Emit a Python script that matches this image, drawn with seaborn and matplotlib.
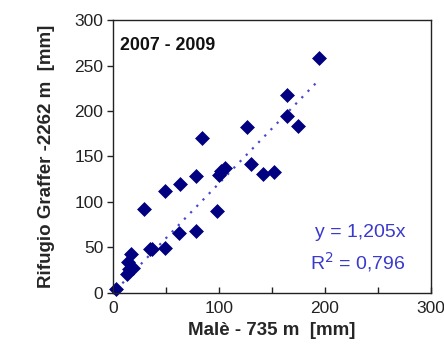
import numpy as np
import pandas as pd
import matplotlib
matplotlib.use("Agg")
import matplotlib.pyplot as plt
import seaborn as sns

# Malè (x) vs Rifugio Graffer (y), monthly precipitation [mm]
male_mm = [3, 13.5, 15.5, 19, 14, 17, 35, 36.5, 49, 29, 49, 63, 62, 78,
           78, 84, 98, 100, 101.5, 106, 126, 130, 141.5, 152, 164, 164,
           174.5, 194]
graffer_mm = [4, 21, 26, 27, 34, 43, 48, 48, 49, 92, 112, 120, 66, 68,
              129, 170, 90, 130, 134, 137, 182, 142, 131, 133, 218, 195,
              183, 258]
slope = 1.205
period_label = "2007 - 2009"
eq_label = "y = 1,205x"
r2_label = "R$^2$ = 0,796"

df = pd.DataFrame({"male": male_mm, "graffer": graffer_mm})

sns.set_style("white")
plt.rcParams["font.family"] = ["Liberation Sans", "DejaVu Sans"]

fig = plt.figure(figsize=(4.44, 3.56), dpi=100)
ax = fig.add_axes([0.2545, 0.177, 0.7162, 0.7668])

# trendline through origin over the data range
xs = np.array([min(male_mm), max(male_mm)])
ax.plot(xs, slope * xs, linestyle=(0, (1, 3)), color="#4848cc", lw=1.6, zorder=1)

sns.scatterplot(data=df, x="male", y="graffer", marker="D", s=50,
                color="#000080", edgecolor="#000080", linewidth=0.5,
                ax=ax, zorder=2, clip_on=False)

ax.set_xlim(0, 300)
ax.set_ylim(0, 300)
ax.set_xticks(range(0, 301, 100))
ax.set_xticks(range(0, 301, 50), minor=True)
ax.set_yticks(range(0, 301, 50))
ax.tick_params(axis="x", which="both", direction="in", length=4, width=1,
               labelsize=12.5, pad=6, colors="#222222", bottom=True)
ax.tick_params(axis="y", direction="out", length=4, width=1,
               labelsize=12.5, pad=3, colors="#222222", left=True)
for sp in ax.spines.values():
    sp.set_color("#222222")
    sp.set_linewidth(1)

ax.set_xlabel("Malè - 735 m  [mm]", fontsize=13.5, fontweight="bold", labelpad=4)
ax.set_ylabel("Rifugio Graffer -2262 m  [mm]", fontsize=13.5, fontweight="bold",
              labelpad=14)

ax.text(0.022, 0.908, period_label, transform=ax.transAxes, fontsize=12.8,
        fontweight="bold", va="center", ha="left", color="#111111")
ax.text(0.921, 0.223, eq_label, transform=ax.transAxes, fontsize=14,
        va="center", ha="right", color="#3a3acc")
ax.text(0.921, 0.112, r2_label, transform=ax.transAxes, fontsize=14,
        va="center", ha="right", color="#3a3acc")

fig.savefig("out.png", dpi=100)
